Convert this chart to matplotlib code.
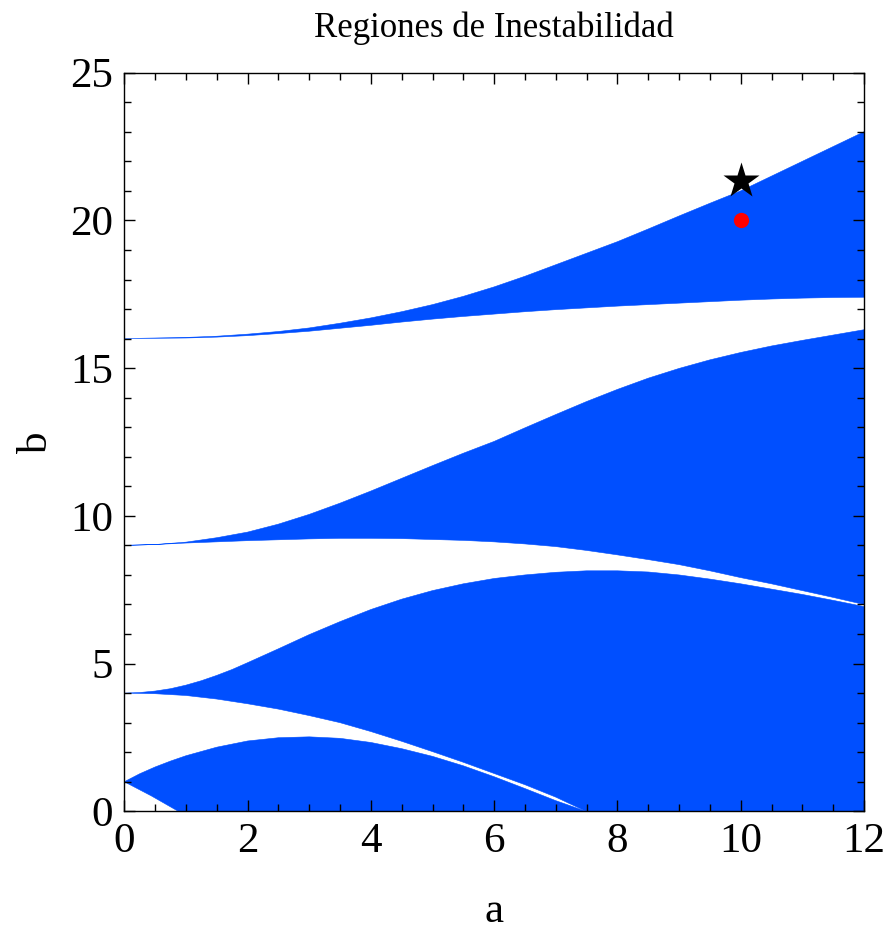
import numpy as np
import matplotlib
matplotlib.use("Agg")
import matplotlib.pyplot as plt
from matplotlib.ticker import MultipleLocator

# ---- boundary curves of the instability regions ----
# region 1 (tongue from b=1)
r1_upper_a = [0.0, 0.25, 0.5, 0.75, 1.0, 1.5, 2.0, 2.5, 3.0, 3.5, 4.0, 4.5, 5.0, 5.5, 6.0, 6.5, 7.0, 7.49]
r1_upper_b = [1.0, 1.27, 1.50, 1.70, 1.88, 2.17, 2.38, 2.49, 2.52, 2.47, 2.33, 2.12, 1.86, 1.54, 1.17, 0.77, 0.36, 0.0]
r1_lower_a = [0.0, 0.44, 0.876]
r1_lower_b = [1.0, 0.52, 0.0]

# region 2 (tongue from b=4)
r2_upper_a = [0.0, 0.25, 0.5, 0.75, 1.0, 1.25, 1.5, 1.75, 2.0, 2.5, 3.0, 3.5, 4.0, 4.5, 5.0, 5.5, 6.0,
              6.5, 7.0, 7.5, 8.0, 8.5, 9.0, 9.5, 10.0, 10.5, 11.0, 11.5, 12.0]
r2_upper_b = [4.0, 4.02, 4.07, 4.15, 4.27, 4.42, 4.60, 4.80, 5.03, 5.50, 5.98, 6.42, 6.83, 7.18, 7.47, 7.70, 7.88,
              8.00, 8.09, 8.14, 8.14, 8.10, 8.00, 7.86, 7.70, 7.52, 7.34, 7.14, 6.93]
r2_lower_a = [0.0, 0.5, 1.0, 1.5, 2.0, 2.5, 3.0, 3.5, 4.0, 4.5, 5.0, 5.5, 6.0, 6.5, 7.0, 7.49]
r2_lower_b = [4.0, 3.98, 3.92, 3.80, 3.64, 3.46, 3.24, 3.00, 2.70, 2.37, 2.02, 1.66, 1.28, 0.90, 0.48, 0.0]

# region 3 (tongue from b=9)
r3_upper_a = [0.0, 0.5, 1.0, 1.5, 2.0, 2.5, 3.0, 3.5, 4.0, 4.5, 5.0, 5.5, 6.0, 6.5, 7.0, 7.5, 8.0,
              8.5, 9.0, 9.5, 10.0, 10.5, 11.0, 11.5, 12.0]
r3_upper_b = [9.0, 9.03, 9.11, 9.26, 9.45, 9.72, 10.05, 10.43, 10.84, 11.27, 11.70, 12.12, 12.52, 12.98, 13.43, 13.87, 14.28,
              14.66, 14.99, 15.28, 15.53, 15.75, 15.94, 16.12, 16.30]
r3_lower_a = [0.0, 0.5, 1.0, 1.5, 2.0, 2.5, 3.0, 3.5, 4.0, 4.5, 5.0, 5.5, 6.0, 6.5, 7.0, 7.5, 8.0,
              8.5, 9.0, 9.5, 10.0, 10.5, 11.0, 11.5, 12.0]
r3_lower_b = [9.0, 9.03, 9.08, 9.12, 9.16, 9.19, 9.22, 9.24, 9.24, 9.23, 9.20, 9.17, 9.12, 9.05, 8.96, 8.83, 8.68,
              8.52, 8.35, 8.14, 7.91, 7.70, 7.47, 7.24, 7.00]

# region 4 (tongue from b=16)
r4_upper_a = [0.0, 1.0, 1.5, 2.0, 2.5, 3.0, 3.5, 4.0, 4.5, 5.0, 5.5, 6.0, 6.5, 7.0, 7.5, 8.0,
              8.5, 9.0, 9.5, 10.0, 10.5, 11.0, 11.5, 12.0]
r4_upper_b = [16.0, 16.04, 16.08, 16.15, 16.24, 16.36, 16.52, 16.70, 16.91, 17.15, 17.43, 17.75, 18.11, 18.50, 18.89, 19.28,
              19.71, 20.15, 20.58, 21.0, 21.5, 22.0, 22.5, 23.0]
r4_lower_a = [0.0, 1.0, 1.5, 2.0, 2.5, 3.0, 3.5, 4.0, 4.5, 5.0, 5.5, 6.0, 6.5, 7.0, 7.5, 8.0,
              8.5, 9.0, 9.5, 10.0, 10.5, 11.0, 11.5, 12.0]
r4_lower_b = [16.0, 16.02, 16.05, 16.10, 16.17, 16.25, 16.35, 16.45, 16.56, 16.66, 16.75, 16.83, 16.91, 16.98, 17.04, 17.10,
              17.15, 17.20, 17.25, 17.30, 17.34, 17.37, 17.39, 17.40]

# points
dot_a, dot_b = [10.0], [20.0]
star_a, star_b = [10.0], [21.35]

title = "Regiones de Inestabilidad"
xlabel, ylabel = "a", "b"
xticks = [0, 2, 4, 6, 8, 10, 12]
yticks = [0, 5, 10, 15, 20, 25]

BLUE = "#004fff"
serif = ["Liberation Serif", "DejaVu Serif"]
plt.rcParams["font.family"] = serif

fig = plt.figure(figsize=(8.9, 9.35), dpi=100)
ax = fig.add_axes([124.3 / 890, 1 - 811.3 / 935, (864 - 124.3) / 890, (811.3 - 72.7) / 935])


def poly(ua, ub, la, lb):
    xs = np.concatenate([np.asarray(ua), np.asarray(la)[::-1]])
    ys = np.concatenate([np.asarray(ub), np.asarray(lb)[::-1]])
    ax.fill(xs, ys, facecolor=BLUE, edgecolor=BLUE, lw=0.4, joinstyle="round",
            zorder=1, antialiased=True)


# region 1: upper curve, along b=0, lower curve back
poly(r1_upper_a + [r1_lower_a[-1]], r1_upper_b + [0.0], r1_lower_a, r1_lower_b)
# region 2: upper curve to a=12, down to b=0, back along b=0, lower curve
poly(r2_upper_a + [r2_upper_a[-1]], r2_upper_b + [0.0], r2_lower_a, r2_lower_b)
poly(r3_upper_a, r3_upper_b, r3_lower_a, r3_lower_b)
poly(r4_upper_a, r4_upper_b, r4_lower_a, r4_lower_b)

ax.plot(dot_a, dot_b, "o", color="red", ms=11, mec="none", zorder=3)
ax.plot(star_a, star_b, "*", color="black", ms=27, mec="none", zorder=3)

ax.set_xlim(0, 12)
ax.set_ylim(0, 25)
ax.set_xticks(xticks)
ax.set_yticks(yticks)
ax.xaxis.set_minor_locator(MultipleLocator(0.5))
ax.yaxis.set_minor_locator(MultipleLocator(1))
ax.tick_params(which="both", direction="in", top=True, right=True, width=1.0, color="black")
ax.tick_params(which="major", length=8, labelsize=31, pad=8)
ax.tick_params(which="minor", length=5)
for s in ax.spines.values():
    s.set_linewidth(1.0)
    s.set_zorder(4)
ax.set_axisbelow(False)

ax.set_title(title, fontsize=25, pad=26)
ax.set_xlabel(xlabel, fontsize=31, labelpad=23)
ax.set_ylabel(ylabel, fontsize=31, labelpad=10)

fig.savefig("out.png", dpi=100)
